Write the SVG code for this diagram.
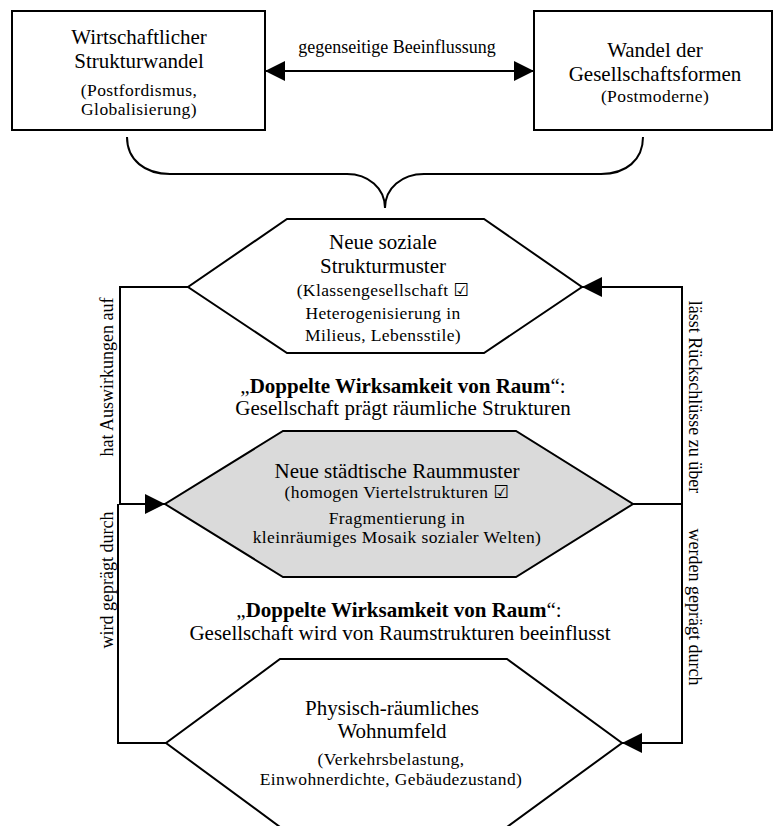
<svg xmlns="http://www.w3.org/2000/svg" width="773" height="826" viewBox="0 0 773 826">
<defs>
<style>
.t{font-family:"Liberation Serif","Times New Roman","DejaVu Serif",serif;fill:#000;text-anchor:middle}
.m{font-size:21px}
.s{font-size:17.5px;letter-spacing:0.4px}
.l{font-size:18px}
.box{fill:#fff;stroke:#000;stroke-width:2}
.hex{fill:#fff;stroke:#000;stroke-width:2}
.gray{fill:#dadada}
.c{fill:none;stroke:#000;stroke-width:2}
.chk{font-family:"DejaVu Sans",sans-serif}
</style>
<marker id="ah" viewBox="0 0 20 20" markerWidth="20" markerHeight="20" refX="20" refY="10" orient="auto-start-reverse" markerUnits="userSpaceOnUse">
<path d="M0,0 L20,10 L0,20 z" fill="#000"/>
</marker>
</defs>
<rect width="773" height="826" fill="#fff"/>

<g id="connectors">
<line class="c" x1="285" y1="71" x2="514" y2="71"/>
<line class="c" x1="265" y1="71" x2="534" y2="71" marker-start="url(#ah)" marker-end="url(#ah)"/>
<path class="c" d="M127,137 C127,160 145,174 170,174 L347,174 C368,174 385,188 385,208 C385,188 402,174 424,174 L601,174 C626,174 643,160 643,137"/>
<polyline class="c" points="188,287 120,287 120,504 165,504" marker-end="url(#ah)"/>
<polyline class="c" points="166,743 118,743 118,504"/>
<polyline class="c" points="633,504 682,504 682,287 582,287" marker-end="url(#ah)"/>
<polyline class="c" points="682,504 682,743 622,743" marker-end="url(#ah)"/>
<text class="t l" x="397" y="53">gegenseitige Beeinflussung</text>
<text class="t l" transform="translate(113,377) rotate(-90)">hat Auswirkungen auf</text>
<text class="t l" transform="translate(113,580) rotate(-90)">wird geprägt durch</text>
<text class="t l" transform="translate(689,397) rotate(90)">lässt Rückschlüsse zu über</text>
<text class="t l" transform="translate(689,607) rotate(90)">werden geprägt durch</text>
</g>

<g id="box-wirtschaft">
<rect class="box" x="12" y="11" width="253" height="119"/>
<text class="t m" x="139" y="44">Wirtschaftlicher</text>
<text class="t m" x="139" y="68">Strukturwandel</text>
<text class="t s" x="139" y="96">(Postfordismus,</text>
<text class="t s" x="139" y="115">Globalisierung)</text>
</g>

<g id="box-gesellschaft">
<rect class="box" x="534" y="11" width="238" height="119"/>
<text class="t m" x="655" y="57">Wandel der</text>
<text class="t m" x="655" y="81">Gesellschaftsformen</text>
<text class="t s" x="655" y="102">(Postmoderne)</text>
</g>

<g id="hex-sozial">
<polygon class="hex" points="287,219 484,219 582,287 484,353 287,353 188,287"/>
<text class="t m" x="383" y="249">Neue soziale</text>
<text class="t m" x="383" y="273">Strukturmuster</text>
<text class="t s" x="383" y="296">(Klassengesellschaft <tspan class="chk">☑</tspan></text>
<text class="t s" x="383" y="319">Heterogenisierung in</text>
<text class="t s" x="383" y="341">Milieus, Lebensstile)</text>
</g>

<g id="text-doppelt-1">
<text class="t m" x="403" y="393">„<tspan font-weight="bold">Doppelte Wirksamkeit von Raum</tspan>“:</text>
<text class="t m" x="403" y="415">Gesellschaft prägt räumliche Strukturen</text>
</g>

<g id="hex-raum">
<polygon class="hex gray" points="283,431 516,431 633,504 516,577 283,577 165,504"/>
<text class="t m" x="397" y="478">Neue städtische Raummuster</text>
<text class="t s" x="397" y="498">(homogen Viertelstrukturen <tspan class="chk">☑</tspan></text>
<text class="t s" x="397" y="524">Fragmentierung in</text>
<text class="t s" x="397" y="543">kleinräumiges Mosaik sozialer Welten)</text>
</g>

<g id="text-doppelt-2">
<text class="t m" x="399" y="617">„<tspan font-weight="bold">Doppelte Wirksamkeit von Raum</tspan>“:</text>
<text class="t m" x="400" y="640">Gesellschaft wird von Raumstrukturen beeinflusst</text>
</g>

<g id="hex-wohnumfeld">
<polygon class="hex" points="280,659 507,659 622,743 507,827 280,827 166,743"/>
<text class="t m" x="392" y="715">Physisch-räumliches</text>
<text class="t m" x="392" y="738">Wohnumfeld</text>
<text class="t s" x="391" y="765">(Verkehrsbelastung,</text>
<text class="t s" x="391" y="785">Einwohnerdichte, Gebäudezustand)</text>
</g>
</svg>
